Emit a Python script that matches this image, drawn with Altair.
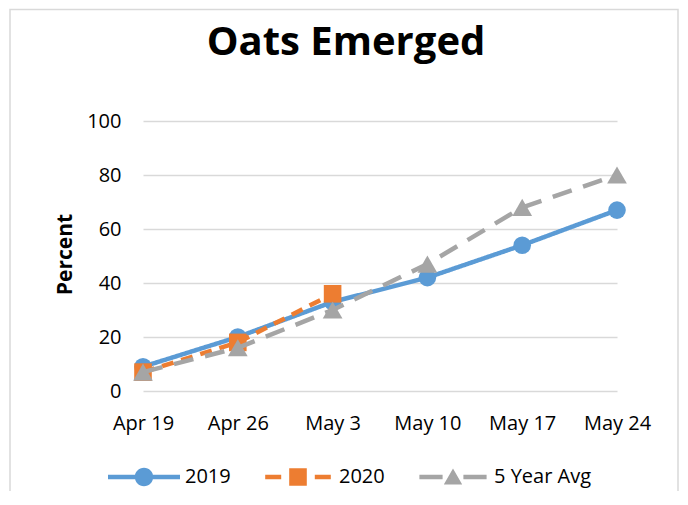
import altair as alt
import pandas as pd

# ---- data ----
dates = ["Apr 19", "Apr 26", "May 3", "May 10", "May 17", "May 24"]
series_names = ["2019", "2020", "5 Year Avg"]
pct_2019 = [9, 20, 33, 42, 54, 67]
pct_2020 = [7, 18, 36]
pct_avg = [7, 16, 30, 47, 68, 80]
y_ticks = [0, 20, 40, 60, 80, 100]
chart_title = "Oats Emerged"

colors = ["#5B9BD5", "#ED7D31", "#A5A5A5"]
dashes = [[1, 0], [12, 8], [20, 12]]
shapes = ["circle", "square", "triangle-up"]
sizes = [310, 310, 390]

# custom legend symbols (line + marker, Excel style); 1 unit = 8px at size 256
legend_paths = [
    "M-4.5,-0.28H4.5V0.28H-4.5Z M1.15,0A1.15,1.15 0 1 1 -1.15,0A1.15,1.15 0 1 1 1.15,0Z",
    "M-4.1,-0.28H-2.1V0.28H-4.1Z M-1.1,-1.1H1.1V1.1H-1.1Z M2.1,-0.28H4.1V0.28H2.1Z",
    "M-4.2,-0.28H-1.3V0.28H-4.2Z M0,-1.05L1.15,0.95H-1.15Z M1.3,-0.28H4.2V0.28H1.3Z",
]

rows = []
for name, vals in zip(series_names, [pct_2019, pct_2020, pct_avg]):
    for d, v in zip(dates, vals):
        rows.append({"date": d, "series": name, "pct": v})
df = pd.DataFrame(rows)

FONT = "Open Sans"
W, H = 474, 270

x_enc = alt.X(
    "date:N",
    sort=dates,
    scale=alt.Scale(type="point", padding=0, domain=dates),
    axis=alt.Axis(
        title=None, labelAngle=0, ticks=False, domain=False, grid=False,
        labelPadding=22, labelFontSize=20, labelFont=FONT, labelColor="#000000",
    ),
)
y_enc = alt.Y(
    "pct:Q",
    scale=alt.Scale(domain=[0, 100], nice=False),
    axis=alt.Axis(
        values=y_ticks, title="Percent", ticks=False, domain=False, grid=True,
        gridColor="#D9D9D9", gridWidth=1.5, labelPadding=22, labelFontSize=20,
        labelFont=FONT, labelColor="#000000", titleFont=FONT, titleFontSize=21,
        titleFontWeight="bold", titleColor="#000000", titleAngle=270,
        titleX=-68, titleY=133, titleAlign="center", titleBaseline="bottom",
    ),
)

border = alt.Chart(pd.DataFrame({"k": [0]})).mark_rect(
    fill="transparent", stroke="#D9D9D9", strokeWidth=1.5
).encode(
    x=alt.value(-133), x2=alt.value(535), y=alt.value(-111.5), y2=alt.value(520)
)

title_layer = alt.Chart(pd.DataFrame({"t": [chart_title]})).mark_text(
    font=FONT, fontSize=40, fontWeight="bold", color="#000000",
    align="center", baseline="alphabetic",
).encode(text="t:N", x=alt.value(203), y=alt.value(-66))

layers = [border, title_layer]
for i, name in enumerate(series_names):
    base = alt.Chart(df).transform_filter(alt.datum.series == name)
    line = base.mark_line(
        color=colors[i], strokeWidth=4.5, strokeDash=dashes[i], strokeCap="butt"
    ).encode(x=x_enc, y=y_enc)
    pts = base.mark_point(
        filled=True, opacity=1, shape=shapes[i], size=sizes[i], color=colors[i],
        strokeWidth=0,
    ).encode(x=x_enc, y=y_enc)
    layers += [line, pts]

leg = alt.Legend(
    title=None, orient="none", legendX=-9, legendY=346, direction="horizontal",
    symbolSize=256, symbolStrokeWidth=0, labelOffset=31, columnPadding=34,
    gridAlign="none", labelFontSize=20, labelFont=FONT, labelColor="#000000",
    padding=0, symbolOpacity=1,
)
legend_layer = alt.Chart(df).transform_filter("false").mark_point(
    filled=True, opacity=1
).encode(
    color=alt.Color("series:N", scale=alt.Scale(domain=series_names, range=colors), legend=leg),
    shape=alt.Shape("series:N", scale=alt.Scale(domain=series_names, range=legend_paths), legend=leg),
)
layers.append(legend_layer)

chart = alt.layer(*layers).properties(
    width=W,
    height=H,
    background="white",
    autosize=alt.AutoSizeParams(type="none"),
    padding={"left": 135, "top": 113, "right": 63, "bottom": 100},
).configure_view(stroke=None)

chart.save("out.html", embed_options={"renderer": "svg", "actions": False})
